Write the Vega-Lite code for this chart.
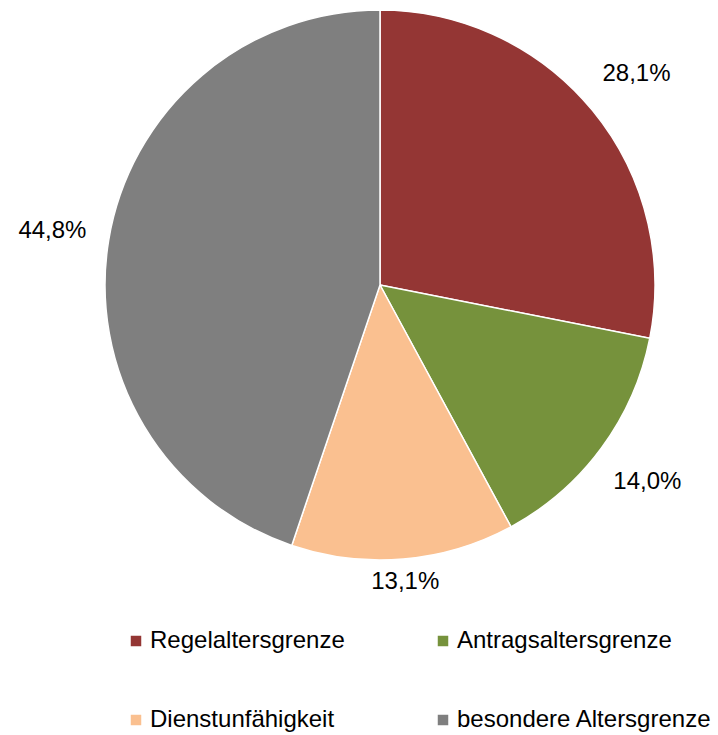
{
  "$schema": "https://vega.github.io/schema/vega-lite/v6.json",
  "width": 676,
  "height": 570,
  "autosize": {"type": "none"},
  "padding": {"left": 42, "top": 0, "right": 0, "bottom": 165},
  "background": "white",
  "config": {"view": {"stroke": null}, "font": "Liberation Sans"},
  "data": {"values": [
    {"kategorie": "Regelaltersgrenze", "anteil": 28.1, "label": "28,1%", "ord": 1},
    {"kategorie": "Antragsaltersgrenze", "anteil": 14.0, "label": "14,0%", "ord": 2},
    {"kategorie": "Dienstunfähigkeit", "anteil": 13.1, "label": "13,1%", "ord": 3},
    {"kategorie": "besondere Altersgrenze", "anteil": 44.8, "label": "44,8%", "ord": 4}
  ]},
  "encoding": {
    "theta": {"field": "anteil", "type": "quantitative", "stack": true},
    "order": {"field": "ord", "type": "quantitative"}
  },
  "layer": [
    {
      "mark": {"type": "arc", "outerRadius": 275, "stroke": "white", "strokeWidth": 1.5},
      "encoding": {
        "color": {
          "field": "kategorie", "type": "nominal",
          "sort": ["Regelaltersgrenze", "Antragsaltersgrenze", "Dienstunfähigkeit", "besondere Altersgrenze"],
          "scale": {"domain": ["Regelaltersgrenze", "Antragsaltersgrenze", "Dienstunfähigkeit", "besondere Altersgrenze"],
                    "range": ["#943634", "#76923C", "#FAC090", "#7F7F7F"]},
          "legend": {
            "title": null, "orient": "none", "legendX": 82, "legendY": 629,
            "direction": "horizontal", "columns": 2,
            "symbolType": "square", "symbolSize": 110, "symbolStrokeWidth": 0,
            "labelFontSize": 24, "labelFont": "Liberation Sans", "labelColor": "#000000",
            "labelOffset": 2, "columnPadding": 86, "rowPadding": 55, "labelLimit": 400
          }
        }
      }
    },
    {
      "mark": {"type": "text", "radius": {"expr": "datum.ord == 3 ? 298 : 332"}, "fontSize": 24, "font": "Liberation Sans", "color": "#000000", "align": "center", "baseline": "middle"},
      "encoding": {"text": {"field": "label", "type": "nominal"}}
    }
  ]
}
